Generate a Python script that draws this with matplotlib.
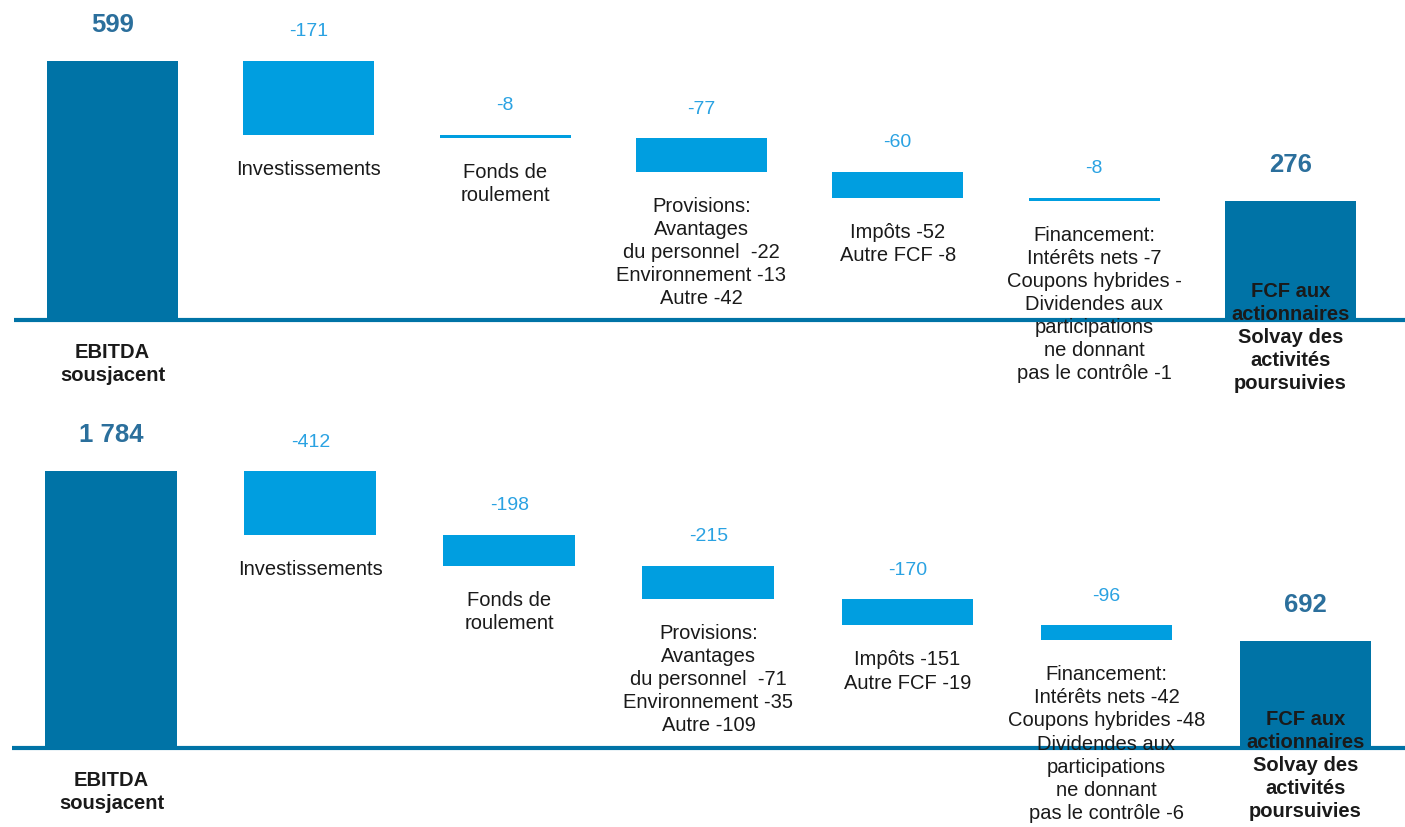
import matplotlib.pyplot as plt

plt.rcParams['font.family'] = ['Liberation Sans', 'DejaVu Sans']

# categories (same wording, different figures in the two panels)
labels_top = ["EBITDA\nsousjacent", "Investissements", "Fonds de\nroulement",
              "Provisions:\nAvantages\ndu personnel  -22\nEnvironnement -13\nAutre -42",
              "Impôts -52\nAutre FCF -8",
              "Financement:\nIntérêts nets -7\nCoupons hybrides -\nDividendes aux\n"
              "participations\nne donnant\npas le contrôle -1",
              "FCF aux\nactionnaires\nSolvay des\nactivités\npoursuivies"]
values_top = [599, -171, -8, -77, -60, -8, 276]
texts_top = ["599", "-171", "-8", "-77", "-60", "-8", "276"]

labels_bot = ["EBITDA\nsousjacent", "Investissements", "Fonds de\nroulement",
              "Provisions:\nAvantages\ndu personnel  -71\nEnvironnement -35\nAutre -109",
              "Impôts -151\nAutre FCF -19",
              "Financement:\nIntérêts nets -42\nCoupons hybrides -48\nDividendes aux\n"
              "participations\nne donnant\npas le contrôle -6",
              "FCF aux\nactionnaires\nSolvay des\nactivités\npoursuivies"]
values_bot = [1784, -412, -198, -215, -170, -96, 692]
texts_bot = ["1 784", "-412", "-198", "-215", "-170", "-96", "692"]

DARK = '#0073a6'
LIGHT = '#009ee0'
TOTAL_TXT = '#2b6f9c'
DELTA_TXT = '#2aa2e2'
CAT_TXT = '#1a1a1a'
LS = 1.27


def waterfall(ax, labels, values, texts, width, xlim, ylim):
    running = 0
    n = len(values)
    for i, (lab, v, t) in enumerate(zip(labels, values, texts)):
        total = (i == 0 or i == n - 1)
        if total:
            bottom, height = 0, v
            running = v
            color = DARK
        else:
            bottom, height = running + v, -v
            running = running + v
            color = LIGHT
        ax.bar(i, height, bottom=bottom, width=width, color=color, zorder=2)
        top = bottom + height
        if total:
            ax.annotate(t, (i, top), xytext=(0, 36), textcoords='offset pixels',
                        ha='center', va='center', fontsize=18.5,
                        fontweight='bold', color=TOTAL_TXT)
        else:
            ax.annotate(t, (i, top), xytext=(0, 29), textcoords='offset pixels',
                        ha='center', va='center', fontsize=14, color=DELTA_TXT)
        if i == 0:
            ax.annotate(lab, (i, 0), xytext=(0, -23), textcoords='offset pixels',
                        ha='center', va='top', fontsize=14.5, fontweight='bold',
                        color=CAT_TXT, linespacing=LS, zorder=4)
        elif i == n - 1:
            ax.annotate(lab, (i, 0), xytext=(0, 38), textcoords='offset pixels',
                        ha='center', va='top', fontsize=14.5, fontweight='bold',
                        color=CAT_TXT, linespacing=LS, zorder=4)
        else:
            ax.annotate(lab, (i, bottom), xytext=(0, -25), textcoords='offset pixels',
                        ha='center', va='top', fontsize=14.5,
                        color=CAT_TXT, linespacing=LS, zorder=4)
    ax.hlines(0, -0.5, xlim[1], colors=DARK, lw=3, zorder=3)
    ax.set_xlim(*xlim)
    ax.set_ylim(*ylim)
    ax.axis('off')


fig = plt.figure(figsize=(14.05, 8.27), dpi=100)
ax1 = fig.add_axes([0, 417 / 827, 1, 410 / 827])
ax2 = fig.add_axes([0, 0, 1, 417 / 827])

waterfall(ax1, labels_top, values_top, texts_top, 0.667, (-0.573, 6.584), (-208, 740))
waterfall(ax2, labels_bot, values_bot, texts_bot, 0.663, (-0.560, 6.50), (-509, 2177))

fig.savefig('out.png', dpi=100)
